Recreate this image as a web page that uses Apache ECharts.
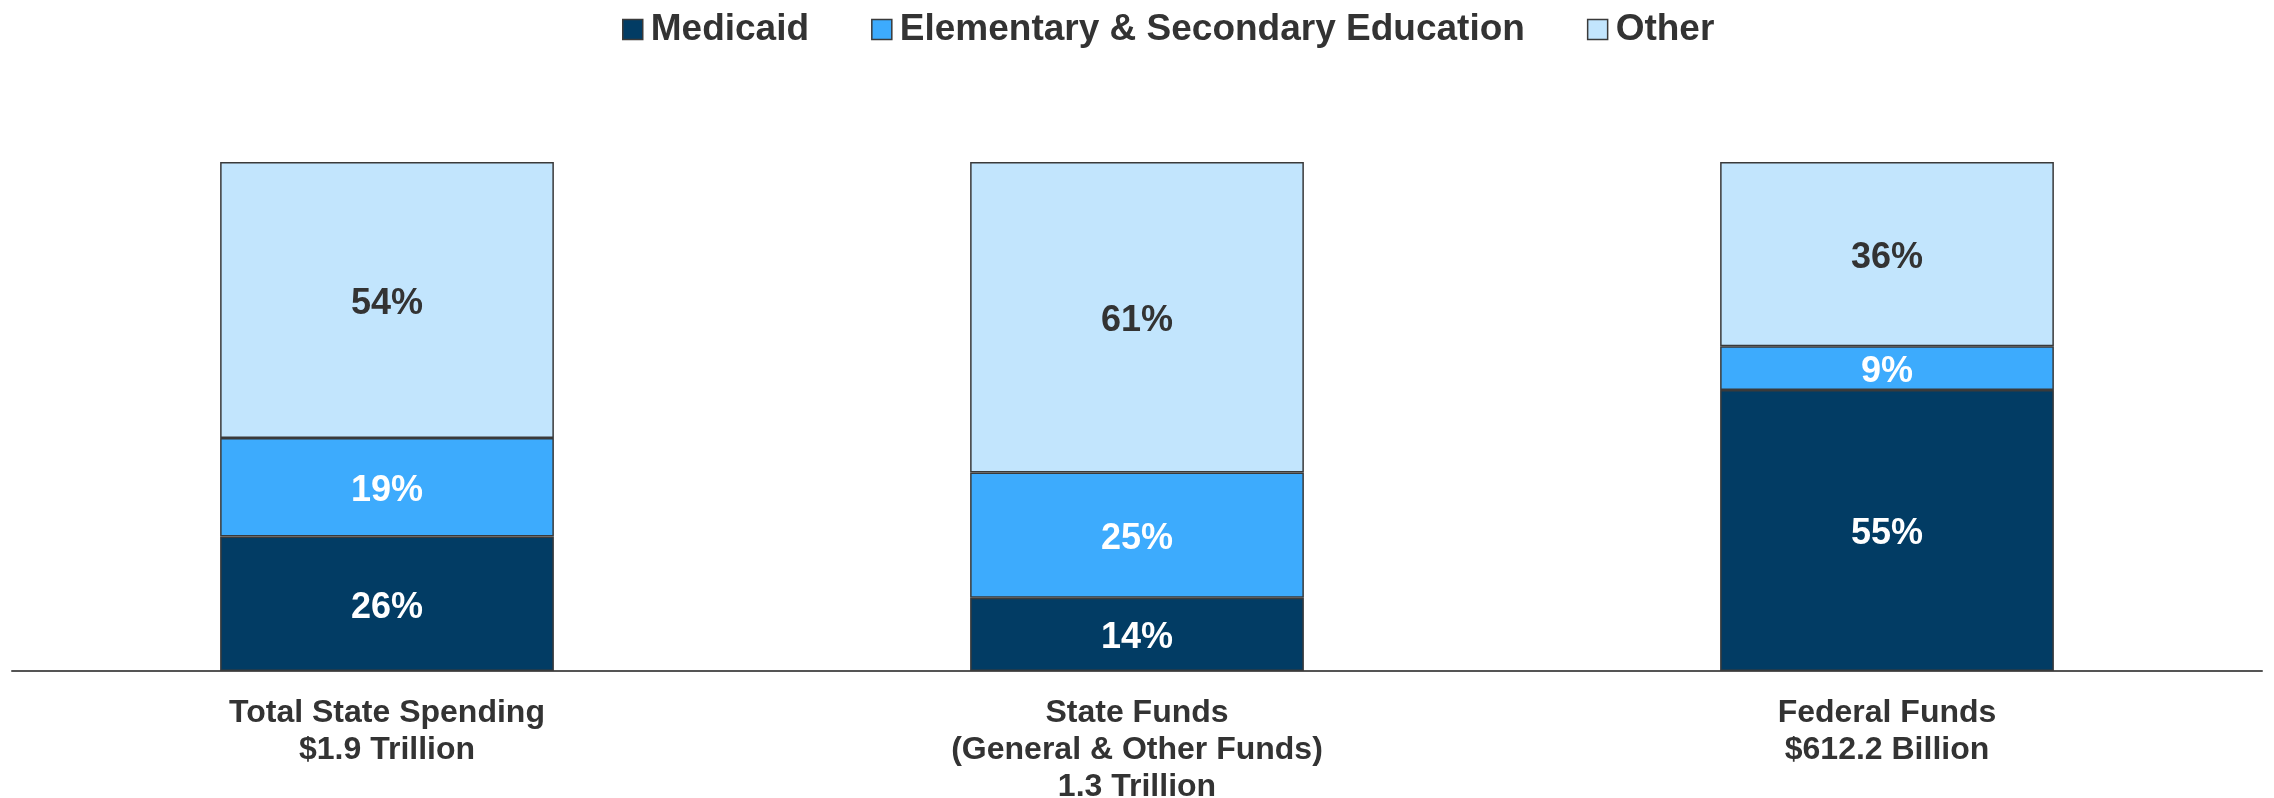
<!DOCTYPE html>
<html>
<head>
<meta charset="utf-8">
<script src="https://cdn.jsdelivr.net/npm/echarts@6/dist/echarts.min.js"></script>
<style>
  html, body { margin: 0; padding: 0; background: #fff; }
  #chart { width: 2274px; height: 798px; }
</style>
</head>
<body>
<div id="chart"></div>
<script>
const categories = [
  'Total State Spending\n$1.9 Trillion',
  'State Funds\n(General & Other Funds)\n1.3 Trillion',
  'Federal Funds\n$612.2 Billion'
];
const medicaid = [26.4, 14.4, 55.2];
const education = [19.4, 24.6, 8.6];
const other = [54.2, 61.0, 36.2];

const chart = echarts.init(document.getElementById('chart'));

const font = '"Liberation Sans", Arial, sans-serif';

function makeSeries(name, data, color, labelColor) {
  return {
    name: name,
    type: 'bar',
    stack: 'total',
    barWidth: '44.5%',
    data: data,
    itemStyle: {
      color: color,
      borderColor: '#3a3a3a',
      borderWidth: 1.5,
    },
    label: {
      show: true,
      position: 'inside',
      offset: [0, 4],
      formatter: (p) => Math.round(p.value) + '%',
      color: labelColor,
      fontFamily: font,
      fontWeight: 'bold',
      fontSize: 36,
    },
  };
}

const option = {
  animation: false,
  legend: {
    top: 6,
    left: 617,
    itemWidth: 20,
    itemHeight: 20,
    itemGap: 62,
    icon: 'rect',
    textStyle: {
      fontFamily: font,
      fontWeight: 'bold',
      fontSize: 37,
      color: '#333',
      padding: [0, 0, 0, 3],
    },
    itemStyle: { borderColor: '#3a3a3a', borderWidth: 1.5 },
  },
  grid: {
    left: 12,
    right: 12,
    top: 162,
    bottom: 127,
    containLabel: false,
    outerBoundsMode: 'none',
  },
  xAxis: {
    type: 'category',
    data: categories,
    axisTick: { show: false },
    axisLine: { lineStyle: { color: '#555', width: 2 } },
    axisLabel: {
      margin: 24,
      color: '#333',
      fontFamily: font,
      fontWeight: 'bold',
      fontSize: 32,
      lineHeight: 37,
      interval: 0,
    },
  },
  yAxis: {
    type: 'value',
    min: 0,
    max: 100,
    show: false,
  },
  series: [
    makeSeries('Medicaid', medicaid, '#023C64', '#fff'),
    makeSeries('Elementary & Secondary Education', education, '#3DABFD', '#fff'),
    makeSeries('Other', other, '#C2E5FD', '#333'),
  ],
};

chart.setOption(option);
</script>
</body>
</html>
